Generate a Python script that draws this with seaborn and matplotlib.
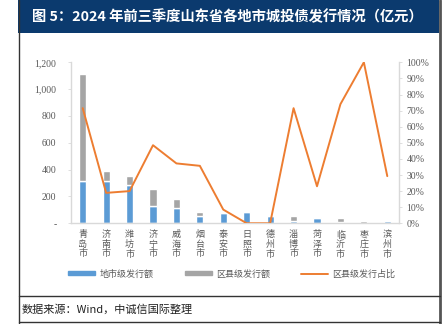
import matplotlib
matplotlib.use("Agg")
import matplotlib.pyplot as plt
from matplotlib.lines import Line2D
from matplotlib.patches import Patch, Rectangle
from matplotlib.ticker import FixedLocator, FuncFormatter
import numpy as np
import pandas as pd
import seaborn as sns

# 2024年前三季度山东省各地市城投债发行（亿元）
cities = ["青岛市", "济南市", "潍坊市", "济宁市", "威海市", "烟台市", "泰安市",
          "日照市", "德州市", "淄博市", "菏泽市", "临沂市", "枣庄市", "滨州市"]
city_level = [316, 316, 282, 132, 113, 55, 77, 86, 57, 15, 36, 10, 0, 14]
county_level = [794, 74, 71, 124, 67, 31, 7, 0, 0, 37, 11, 30, 17, 6]
county_share = [0.715, 0.189, 0.20, 0.485, 0.372, 0.357, 0.085, 0.0, 0.0,
                0.715, 0.23, 0.74, 1.0, 0.293]

blue = "#5b9bd5"
grey = "#a5a5a5"
orange = "#ed7d31"
label_grey = "#595959"
spine_grey = "#d9d9d9"

sns.set_theme(style="white")
plt.rcParams["font.family"] = ["Noto Sans CJK SC", "DejaVu Sans"]

df = pd.DataFrame({"city": cities, "city_level": city_level,
                   "county_level": county_level, "share": county_share})

W, H = 443, 324
fig = plt.figure(figsize=(W / 100, H / 100), dpi=100)
ax = fig.add_axes([71 / W, 1 - 223.3 / H, 328 / W, 161 / H])

sns.barplot(data=df, x="city", y="city_level", color=blue, width=0.3,
            saturation=1, ax=ax)
sns.barplot(data=df, x="city", y="county_level", color=grey, width=0.3,
            saturation=1, bottom=df["city_level"], ax=ax)

ax.set_xlim(-0.5, len(cities) - 0.5)
ax.set_ylim(0, 1200)
ax.set_xlabel("")
ax.set_ylabel("")
ax.yaxis.set_major_locator(FixedLocator(range(0, 1201, 200)))
ax.yaxis.set_major_formatter(FuncFormatter(lambda v, p: "-" if v == 0 else f"{int(v):,}"))
ax.set_xticks(range(len(cities)))
ax.set_xticklabels(["\n".join(c) for c in cities], linespacing=1.08,
                   fontsize=6.5, color=label_grey)
ax.tick_params(axis="x", length=0, pad=5)
ax.tick_params(axis="y", length=2.5, width=0.6, color=spine_grey,
               labelsize=7, labelcolor=label_grey, pad=8)
for lab in ax.get_yticklabels():
    lab.set_fontfamily("Liberation Serif")
for side in ["top", "right"]:
    ax.spines[side].set_visible(False)
for side in ["left", "bottom"]:
    ax.spines[side].set_color(spine_grey)
    ax.spines[side].set_linewidth(1.0)

ax2 = ax.twinx()
sns.lineplot(x=np.arange(len(cities)), y=df["share"], color=orange,
             linewidth=1.4, ax=ax2)
ax2.set_ylim(0, 1.0)
ax2.set_xlim(-0.5, len(cities) - 0.5)
ax2.set_ylabel("")
ax2.yaxis.set_major_locator(FixedLocator(np.linspace(0, 1, 11)))
ax2.yaxis.set_major_formatter(FuncFormatter(lambda v, p: f"{v * 100:.0f}%"))
ax2.tick_params(axis="y", length=2.5, width=0.6, color=spine_grey,
                labelsize=7, labelcolor=label_grey, pad=3)
for lab in ax2.get_yticklabels():
    lab.set_fontfamily("Liberation Serif")
for side in ["top", "left", "bottom"]:
    ax2.spines[side].set_visible(False)
ax2.spines["right"].set_color(spine_grey)
ax2.spines["right"].set_linewidth(1.0)

handles = [Patch(color=blue, label="地市级发行额"),
           Patch(color=grey, label="区县级发行额"),
           Line2D([0], [0], color=orange, linewidth=1.4, label="区县级发行占比")]
leg = fig.legend(handles=handles, loc="center", ncol=3, frameon=False,
                 bbox_to_anchor=(232 / W, 1 - 274 / H), fontsize=6.5,
                 handlelength=3.0, handleheight=0.35, handletextpad=0.5,
                 columnspacing=3.4)
for t in leg.get_texts():
    t.set_color(label_grey)

# header banner, outer frame and source row
fig.add_artist(Rectangle((18 / W, 1 - 33 / H), 421 / W, 33 / H,
                         transform=fig.transFigure, facecolor="#0b3a6e",
                         edgecolor="none", zorder=0))
fig.text(32 / W, 1 - 16.5 / H, "图 5：2024 年前三季度山东省各地市城投债发行情况（亿元）",
         color="white", fontsize=10.3, fontweight="bold", va="center", ha="left")
frame_kw = dict(transform=fig.transFigure, color="#333333", linewidth=1.0)
fig.add_artist(Line2D([18.5 / W, 18.5 / W], [0, 1], **frame_kw))
fig.add_artist(Line2D([439.5 / W, 439.5 / W], [0, 1], transform=fig.transFigure,
                      color="#555555", linewidth=2.0))
fig.add_artist(Line2D([18.5 / W, 439.5 / W], [1 - 296 / H, 1 - 296 / H], **frame_kw))
fig.add_artist(Line2D([18.5 / W, 439.5 / W], [1 - 321.5 / H, 1 - 321.5 / H], **frame_kw))
fig.text(22 / W, 1 - 309 / H, "数据来源：Wind，中诚信国际整理", color="#222222",
         fontsize=8, fontstyle="italic", va="center", ha="left")

fig.savefig("out.png", dpi=100)
